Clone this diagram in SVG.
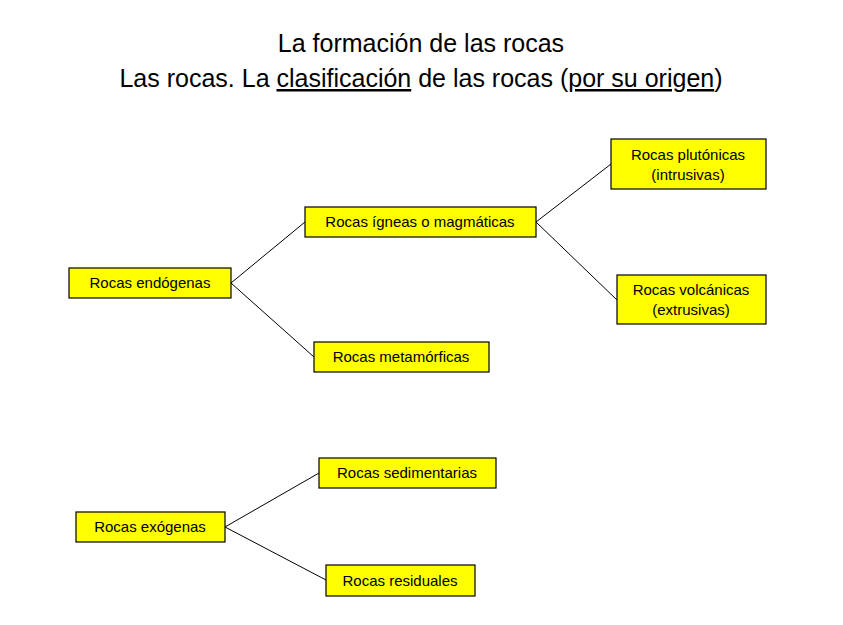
<svg xmlns="http://www.w3.org/2000/svg" width="843" height="625" viewBox="0 0 843 625">
<style>
.b{fill:#ffff00;stroke:#000;stroke-width:1.2}
.t{font-family:"Liberation Sans",Arial,sans-serif;font-size:15px;fill:#000;text-anchor:middle}
.h{font-family:"Liberation Sans",Arial,sans-serif;font-size:25px;fill:#000;text-anchor:middle}
.c line{stroke:#000;stroke-width:1}
</style>
<rect width="843" height="625" fill="#fff"/>
<text class="h" x="421" y="52">La formación de las rocas</text>
<text class="h" x="421" y="87">Las rocas. La <tspan text-decoration="underline">clasificación</tspan> de las rocas (<tspan text-decoration="underline">por su origen</tspan>)</text>
<g class="c">
<line x1="231" y1="283" x2="305" y2="222"/>
<line x1="231" y1="283" x2="314" y2="357"/>
<line x1="536" y1="222" x2="611" y2="164"/>
<line x1="536" y1="222" x2="617" y2="300"/>
<line x1="225" y1="527" x2="319" y2="473"/>
<line x1="225" y1="527" x2="326" y2="580"/>
</g>
<g id="endogenas"><rect class="b" x="69" y="268" width="162" height="30"/><text class="t" x="150" y="288">Rocas endógenas</text></g>
<g id="igneas"><rect class="b" x="305" y="207" width="231" height="30"/><text class="t" x="420" y="227">Rocas ígneas o magmáticas</text></g>
<g id="metamorficas"><rect class="b" x="314" y="342" width="175" height="30"/><text class="t" x="401" y="362">Rocas metamórficas</text></g>
<g id="plutonicas"><rect class="b" x="611" y="139" width="155" height="50"/><text class="t" x="688" y="160">Rocas plutónicas</text><text class="t" x="688" y="180">(intrusivas)</text></g>
<g id="volcanicas"><rect class="b" x="617" y="275" width="149" height="49"/><text class="t" x="691" y="295">Rocas volcánicas</text><text class="t" x="691" y="315">(extrusivas)</text></g>
<g id="sedimentarias"><rect class="b" x="319" y="458" width="177" height="30"/><text class="t" x="407" y="478">Rocas sedimentarias</text></g>
<g id="exogenas"><rect class="b" x="76" y="512" width="149" height="30"/><text class="t" x="150" y="532">Rocas exógenas</text></g>
<g id="residuales"><rect class="b" x="326" y="565" width="149" height="31"/><text class="t" x="400" y="586">Rocas residuales</text></g>
</svg>
